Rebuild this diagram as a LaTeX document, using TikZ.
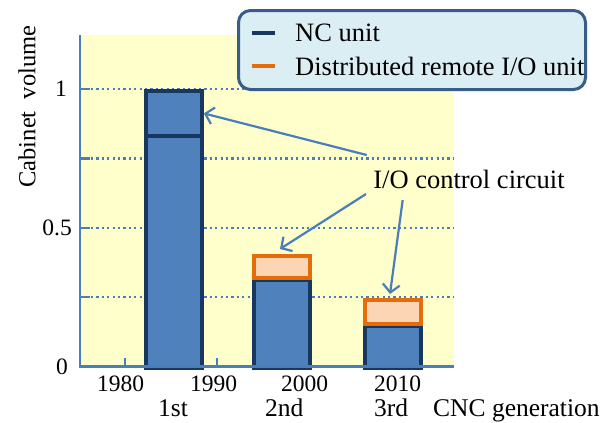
\documentclass[tikz,border=0pt]{standalone}
\usepackage{fontspec}
\setmainfont{Liberation Serif}
\usetikzlibrary{arrows.meta}

\definecolor{plotyellow}{HTML}{FFFFCC}
\definecolor{axisblue}{HTML}{4A7EBB}
\definecolor{barblue}{HTML}{4F81BD}
\definecolor{barnavy}{HTML}{17375E}
\definecolor{iopeach}{HTML}{FCD5B5}
\definecolor{ioorange}{HTML}{E46C0A}
\definecolor{legendfill}{HTML}{DBEEF4}
\definecolor{legendline}{HTML}{385D8A}

\tikzset{
  axisline/.style={draw=axisblue, line width=2.2pt},
  gridline/.style={draw=axisblue, line width=2.2pt, dash pattern=on 2.2pt off 3.2pt},
  ticklabel/.style={font=\fontsize{23.5}{27}\selectfont, inner sep=0pt},
  genlabel/.style={font=\fontsize{25.5}{29}\selectfont, inner sep=0pt},
  ncpart/.style={rectangle, draw=barnavy, fill=barblue, line width=3.8pt,
    inner sep=0pt, minimum width=56pt, anchor=north west},
  iopart/.style={rectangle, draw=ioorange, fill=iopeach, line width=4pt,
    inner sep=0pt, minimum width=56pt, anchor=north west},
  callout/.style={draw=axisblue, line width=2.2pt,
    -{Straight Barb[length=8pt,width=17pt,line width=2.2pt]}},
  legendbox/.style={rectangle, rounded corners=12pt, fill=legendfill,
    draw=legendline, line width=3pt, minimum width=347pt, minimum height=79pt},
  legendtext/.style={font=\fontsize{26.5}{30}\selectfont, anchor=west, inner sep=0pt},
}

\begin{document}
\begin{tikzpicture}[x=1pt, y=-1pt]
  \useasboundingbox (0,0) rectangle (614,423);

  % plot area
  \fill[plotyellow] (80,35) rectangle (454,366.5);

  % horizontal grid at 0.25 steps, with short ticks on the axis
  \foreach \yy in {89,158.4,227.8,297.1} {
    \draw[gridline] (91,\yy) -- (454,\yy);
    \draw[axisline] (80,\yy) -- (90,\yy);
  }
  % year ticks
  \foreach \xx in {124.6,217,311,404}
    \draw[axisline] (\xx,366.5) -- (\xx,358);

  % bars: 1st generation
  \node[ncpart, minimum height=232.5pt] (nc1) at (144,134) {};
  \node[ncpart, minimum height=45pt] (nc1top) at (144,89) {};
  % 2nd generation
  \node[ncpart, minimum height=88pt] (nc2) at (252,278.5) {};
  \node[iopart, minimum height=21.5pt] (io2) at (252,254) {};
  % 3rd generation
  \node[ncpart, minimum height=42pt] (nc3) at (363,324.5) {};
  \node[iopart, minimum height=23.5pt] (io3) at (363,298) {};

  % axes
  \draw[axisline] (80,35) -- (80,366.5) -- (454,366.5);

  % value labels
  \node[ticklabel, anchor=east] (v1) at (67,89) {1};
  \node[ticklabel, anchor=east] (v05) at (72,227.8) {0.5};
  \node[ticklabel, anchor=east] (v0) at (68,366.5) {0};
  \node[ticklabel, rotate=90, font=\fontsize{24.5}{28}\selectfont] (ytitle) at (27,106.5) {Cabinet\ \ volume};

  % year labels
  \node[ticklabel, anchor=base west] (y1980) at (97,391) {1980};
  \node[ticklabel, anchor=base west] (y1990) at (190,391) {1990};
  \node[ticklabel, anchor=base west] (y2000) at (281,391) {2000};
  \node[ticklabel, anchor=base west] (y2010) at (374,391) {2010};

  % generation labels
  \node[genlabel, anchor=base west] (g1) at (158,416) {1st};
  \node[genlabel, anchor=base west] (g2) at (265,416) {2nd};
  \node[genlabel, anchor=base west] (g3) at (374,416) {3rd};
  \node[genlabel, anchor=base west] (xtitle) at (433,416) {CNC generation};

  % callout
  \node[font=\fontsize{26.5}{30}\selectfont, inner sep=0pt] (iocc) at (469,179) {I/O control circuit};
  \coordinate (from1) at (366.7,155);
  \coordinate (from2) at (366,194);
  \coordinate (from3) at (402.7,200);
  \coordinate (to2) at (280,249);
  \coordinate (to3) at (390,294);
  \draw[callout] (from1) -- (nc1top.east);
  \draw[callout] (from2) -- (to2);
  \draw[callout] (from3) -- (to3);

  % legend
  \node[legendbox] (legend) at (412,50) {};
  \draw[draw=barnavy, line width=4pt] (252,33) -- (275,33);
  \draw[draw=ioorange, line width=4pt] (252,66) -- (275,66);
  \node[legendtext] (lgnc) at (295,33) {NC unit};
  \node[legendtext] (lgio) at (295,66) {Distributed remote I/O unit};
\end{tikzpicture}
\end{document}
